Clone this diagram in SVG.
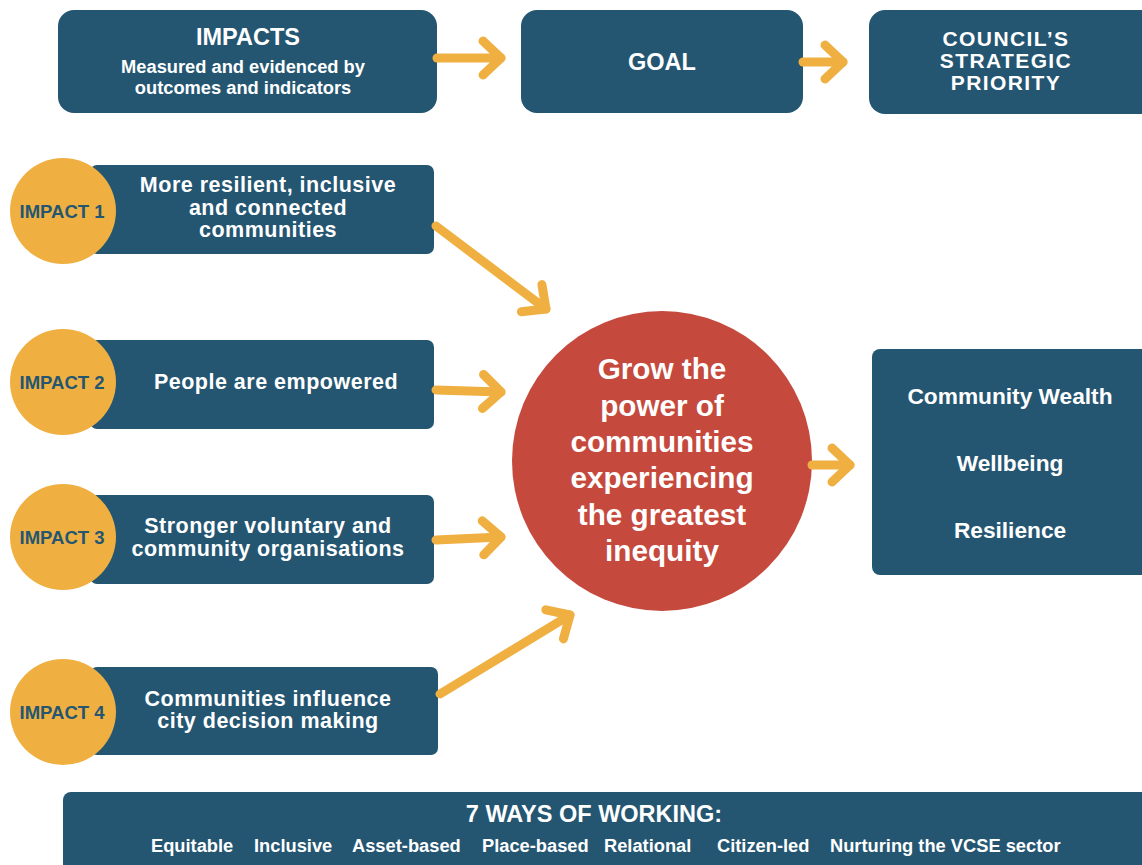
<svg xmlns="http://www.w3.org/2000/svg" width="1142" height="865" viewBox="0 0 1142 865">
  <defs>
    <style>
      .box { fill: #245672; }
      .badge { fill: #EFB041; }
      .hub { fill: #C5493D; }
      text { font-family: "Liberation Sans", Arial, sans-serif; font-weight: bold; text-anchor: middle; fill: #ffffff; }
      .h { font-size: 23.5px; }
      .h3 { font-size: 21px; letter-spacing: 1.4px; }
      .sub { font-size: 18.3px; }
      .imp { font-size: 21.5px; letter-spacing: 0.5px; }
      .tag { font-size: 18.5px; fill: #245672; }
      .hubt { font-size: 29.7px; }
      .prio { font-size: 22.7px; }
      .way { font-size: 18.3px; text-anchor: start; }
      .link { fill: none; stroke: #EFB041; stroke-width: 9; stroke-linecap: round; stroke-linejoin: round; }
    </style>
    <marker id="chev" markerUnits="userSpaceOnUse" markerWidth="40" markerHeight="40" refX="0" refY="0" orient="auto" overflow="visible">
      <path d="M-18,-17 L0,0 L-18,17" fill="none" stroke="#EFB041" stroke-width="9" stroke-linecap="round" stroke-linejoin="round"/>
    </marker>
  </defs>

  <rect width="1142" height="865" fill="#ffffff"/>

  <!-- header row -->
  <g id="head-impacts">
    <rect class="box" x="58" y="10" width="379" height="103" rx="16"/>
    <text class="h" x="248" y="44.5">IMPACTS</text>
    <text class="sub" x="243" y="72.5">Measured and evidenced by</text>
    <text class="sub" x="243" y="93.5">outcomes and indicators</text>
  </g>
  <g id="head-goal">
    <rect class="box" x="521" y="10" width="282" height="103" rx="16"/>
    <text class="h" x="662" y="69.5">GOAL</text>
  </g>
  <g id="head-priority">
    <rect class="box" x="869" y="10" width="290" height="104" rx="16"/>
    <text class="h3" x="1006" y="45.5">COUNCIL’S</text>
    <text class="h3" x="1006" y="67.5">STRATEGIC</text>
    <text class="h3" x="1006" y="89.5">PRIORITY</text>
  </g>

  <!-- impacts -->
  <g id="impact-1">
    <rect class="box" x="90" y="165" width="344" height="89" rx="7"/>
    <circle class="badge" cx="63" cy="211" r="53"/>
    <text class="tag" x="62" y="217.5">IMPACT 1</text>
    <text class="imp" x="268" y="191.5">More resilient, inclusive</text>
    <text class="imp" x="268" y="214.5">and connected</text>
    <text class="imp" x="268" y="236.5">communities</text>
  </g>
  <g id="impact-2">
    <rect class="box" x="90" y="340" width="344" height="89" rx="7"/>
    <circle class="badge" cx="63" cy="382" r="53"/>
    <text class="tag" x="62" y="388.5">IMPACT 2</text>
    <text class="imp" x="276" y="388.5">People are empowered</text>
  </g>
  <g id="impact-3">
    <rect class="box" x="90" y="495" width="344" height="89" rx="7"/>
    <circle class="badge" cx="63" cy="537" r="53"/>
    <text class="tag" x="62" y="543.5">IMPACT 3</text>
    <text class="imp" x="268" y="532.5">Stronger voluntary and</text>
    <text class="imp" x="268" y="555.5">community organisations</text>
  </g>
  <g id="impact-4">
    <rect class="box" x="90" y="667" width="348" height="88" rx="7"/>
    <circle class="badge" cx="63" cy="712" r="53"/>
    <text class="tag" x="62" y="718.5">IMPACT 4</text>
    <text class="imp" x="268" y="705.5">Communities influence</text>
    <text class="imp" x="268" y="727.5">city decision making</text>
  </g>

  <!-- goal -->
  <g id="goal">
    <circle class="hub" cx="662" cy="461" r="150"/>
    <text class="hubt" x="662" y="378.5">Grow the</text>
    <text class="hubt" x="662" y="415.5">power of</text>
    <text class="hubt" x="662" y="451.5">communities</text>
    <text class="hubt" x="662" y="487.5">experiencing</text>
    <text class="hubt" x="662" y="524.5">the greatest</text>
    <text class="hubt" x="662" y="560.5">inequity</text>
  </g>

  <!-- strategic priorities -->
  <g id="priorities">
    <rect class="box" x="872" y="349" width="290" height="226" rx="8"/>
    <text class="prio" x="1010" y="404">Community Wealth</text>
    <text class="prio" x="1010" y="471">Wellbeing</text>
    <text class="prio" x="1010" y="538">Resilience</text>
  </g>

  <!-- ways of working -->
  <g id="ways">
    <rect class="box" x="63" y="792" width="1100" height="90" rx="8"/>
    <text class="h" x="594" y="821.5">7 WAYS OF WORKING:</text>
    <text class="way" x="151" y="851.5">Equitable</text>
    <text class="way" x="254" y="851.5">Inclusive</text>
    <text class="way" x="352" y="851.5">Asset-based</text>
    <text class="way" x="482" y="851.5">Place-based</text>
    <text class="way" x="604" y="851.5">Relational</text>
    <text class="way" x="717" y="851.5">Citizen-led</text>
    <text class="way" x="830" y="851.5">Nurturing the VCSE sector</text>
  </g>

  <!-- connectors -->
  <g id="connectors">
    <path class="link" d="M437,58 L501,58" marker-end="url(#chev)"/>
    <path class="link" d="M803,62 L843,62" marker-end="url(#chev)"/>
    <path class="link" d="M436,226 L546,309" marker-end="url(#chev)"/>
    <path class="link" d="M436,390 L501,392" marker-end="url(#chev)"/>
    <path class="link" d="M436,540 L501,537" marker-end="url(#chev)"/>
    <path class="link" d="M440,694 L570,615" marker-end="url(#chev)"/>
    <path class="link" d="M812,465 L850,465" marker-end="url(#chev)"/>
  </g>
</svg>
